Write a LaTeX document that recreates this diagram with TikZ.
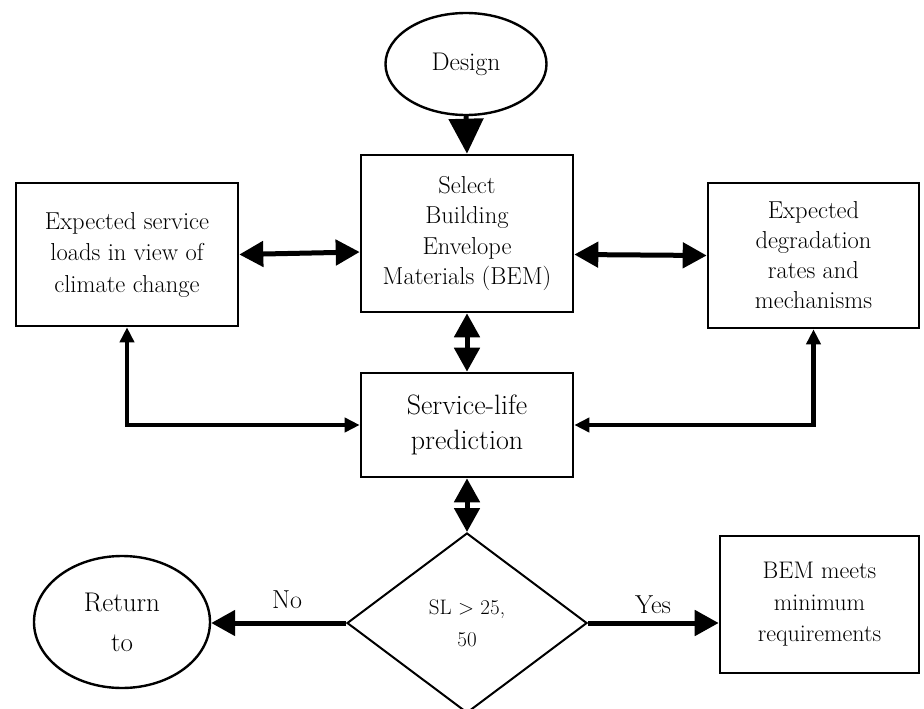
\documentclass[tikz,border=0pt]{standalone}
\usepackage{fontspec}
\usetikzlibrary{arrows.meta,shapes.geometric,calc}
\begin{document}
\begin{tikzpicture}[x=1pt,y=-1pt,
  box/.style={draw,line width=2.6pt,rectangle,align=center,inner sep=0pt,font=\fontsize{24.5}{30.5}\selectfont},
  oval/.style={draw,line width=2.4pt,ellipse,align=center,inner sep=0pt},
  dia/.style={draw,line width=2pt,diamond,align=center,inner sep=0pt,font=\fontsize{21}{32}\selectfont},
  bigarrow/.style={line width=5pt,-{Triangle[length=35pt,width=34pt]}},
  dblarrow/.style={line width=5pt,{Triangle[length=24pt,width=25pt]}-{Triangle[length=24pt,width=25pt]}},
  elbarrow/.style={line width=4.5pt,{Triangle[length=15pt,width=14pt]}-{Triangle[length=15pt,width=14pt]}},
  onearrow/.style={line width=5pt,-{Triangle[length=24pt,width=25pt]}},
  lbl/.style={font=\fontsize{26}{28}\selectfont,inner sep=0pt}]
\useasboundingbox (0,0) rectangle (924,709);
\fill[white] (0,0) rectangle (924,709);

\node[oval,minimum width=161pt,minimum height=102pt,font=\fontsize{25.5}{28}\selectfont] (design) at (466,64) {Design};
\node[box,minimum width=212pt,minimum height=157pt] (sel) at (467,233.5) {Select\\Building\\Envelope\\Materials (BEM)};
\node[box,minimum width=222pt,minimum height=143pt,font=\fontsize{24.5}{31.5}\selectfont] (left) at (127,254.5) {Expected service\\loads in view of\\climate change};
\node[box,minimum width=211pt,minimum height=145pt,font=\fontsize{24.5}{30}\selectfont] (right) at (813.5,255.5) {Expected\\degradation\\rates and\\mechanisms};
\node[box,minimum width=212pt,minimum height=104pt,font=\fontsize{28}{35}\selectfont] (svc) at (467,425) {Service-life\\prediction};
\node[dia,minimum width=240pt,minimum height=180pt] (dec) at (467,623) {SL > 25,\\50};
\node[oval,minimum width=176pt,minimum height=132pt,font=\fontsize{27}{40}\selectfont] (ret) at (122,622) {Return\\to};
\node[box,minimum width=199pt,minimum height=137pt,font=\fontsize{24}{31.5}\selectfont] (bem) at (819.5,604.5) {BEM meets\\minimum\\requirements};

\draw[bigarrow] (design.south) -- (sel.north);
\draw[dblarrow] (left.east) -- ($(sel.west)+(0,18.5)$);
\draw[dblarrow] ($(sel.east)+(0,21)$) -- (right.west);
\draw[dblarrow] (sel.south) -- (svc.north);
\draw[dblarrow] (svc.south) -- (dec.north);
\draw[elbarrow] (left.south) |- (svc.west);
\draw[elbarrow] (right.south) |- (svc.east);
\draw[onearrow] (dec.west) -- (dec.west -| ret.east);
\draw[onearrow] (dec.east) -- (dec.east -| bem.west);

\node[lbl] (no) at (287,600) {No};
\node[lbl] (yes) at (653,605) {Yes};
\end{tikzpicture}
\end{document}
